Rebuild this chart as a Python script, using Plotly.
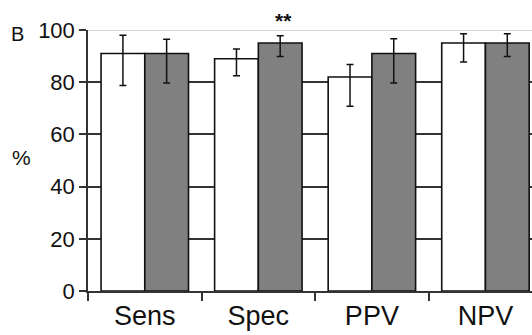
import plotly.graph_objects as go

categories = ["Sens", "Spec", "PPV", "NPV"]
white_vals = [91, 89, 82, 95]
white_hi = [98, 92.7, 86.8, 98.6]
white_lo = [78.7, 82.5, 70.8, 87.7]
gray_vals = [91, 95, 91, 95]
gray_hi = [96.5, 97.8, 96.6, 98.6]
gray_lo = [79.7, 89.8, 79.7, 89.8]
y_ticks = [0, 20, 40, 60, 80, 100]

def err(vals, hi, lo):
    return dict(type="data", symmetric=False,
                array=[h - v for h, v in zip(hi, vals)],
                arrayminus=[v - l for l, v in zip(lo, vals)],
                color="#111", thickness=1.5, width=3.5)

fig = go.Figure()
fig.add_bar(x=categories, y=white_vals, marker=dict(color="white", line=dict(color="#111", width=1.6)),
            error_y=err(white_vals, white_hi, white_lo))
fig.add_bar(x=categories, y=gray_vals, marker=dict(color="#808080", line=dict(color="#111", width=1.6)),
            error_y=err(gray_vals, gray_hi, gray_lo))

fig.update_layout(
    width=532, height=335, barmode="group", bargap=0.23, bargroupgap=0,
    margin=dict(l=88, r=0, t=30, b=44),
    plot_bgcolor="white", paper_bgcolor="white", showlegend=False,
    font=dict(family="Liberation Sans, Arial, sans-serif", color="#111"),
)
fig.update_xaxes(type="category", range=[-0.5, 3.41], tickson="boundaries",
                 ticks="outside", ticklen=8, tickwidth=1.5, tickcolor="#333",
                 showline=True, linecolor="#333", linewidth=1.5,
                 tickfont=dict(size=27), showgrid=False)
fig.update_yaxes(range=[0, 100], tickvals=y_ticks, ticks="outside", ticklen=7, tickwidth=1.5,
                 tickcolor="#333", showline=True, linecolor="#333", linewidth=1.5,
                 tickfont=dict(size=22), showgrid=True, gridcolor="#333", gridwidth=1.5,
                 zeroline=False)
fig.add_shape(type="line", xref="paper", yref="y", x0=0, x1=1, y0=100, y1=100,
              line=dict(color="#aaa", width=1.2))
fig.add_annotation(text="B", xref="paper", yref="paper", x=-0.158, y=0.985,
                   showarrow=False, font=dict(size=20, family="Liberation Sans, Arial, sans-serif"),
                   xanchor="center", yanchor="middle")
fig.add_annotation(text="%", xref="paper", yref="paper", x=-0.149, y=0.51,
                   showarrow=False, font=dict(size=21), xanchor="center", yanchor="middle")
fig.add_annotation(text="<b>**</b>", xref="paper", yref="paper", x=0.441, y=1.035,
                   showarrow=False, font=dict(size=21), xanchor="center", yanchor="middle")
fig.write_html("out.html")
